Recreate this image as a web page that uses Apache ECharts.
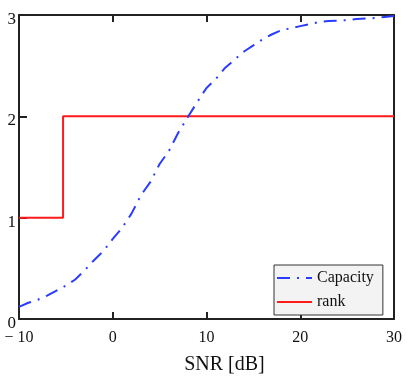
<!DOCTYPE html>
<html>
<head>
<meta charset="utf-8">
<script src="https://cdn.jsdelivr.net/npm/echarts@6/dist/echarts.min.js"></script>
<style>
html,body{margin:0;padding:0;background:#fff;}
#chart{width:415px;height:382px;}
</style>
</head>
<body>
<div id="chart"></div>
<script>
// SNR values (dB) and capacity
var snr = [-10,-9,-8,-7,-6,-5,-4,-3,-2,-1,0,1,2,3,4,5,6,7,8,9,10,11,12,13,14,15,16,17,18,19,20,21,22,23,24,25,26,27,28,29,30];
var capacity = [0.12,0.16,0.19,0.23,0.28,0.33,0.39,0.48,0.58,0.67,0.79,0.90,1.04,1.22,1.35,1.53,1.66,1.84,1.99,2.14,2.28,2.37,2.48,2.56,2.64,2.70,2.76,2.81,2.85,2.87,2.89,2.91,2.93,2.94,2.945,2.95,2.96,2.965,2.97,2.98,2.99];
var rankX = [-10, -5.3, -5.3, 30];
var rankY = [1, 1, 2, 2];
var xTickValues = [-10, 0, 10, 20, 30];
var xTickLabels = ['\u2212 10', '0', '10', '20', '30'];
var yTickLabels = ['0', '1', '2', '3'];
var seriesNames = ['Capacity', 'rank'];

var capData = snr.map(function (x, i) { return [x, capacity[i]]; });
var rankData = rankX.map(function (x, i) { return [x, rankY[i]]; });

var frame = { show: true, onZero: false, lineStyle: { color: '#222', width: 2 } };
var font = 'Liberation Serif, Times New Roman, serif';

var chart = echarts.init(document.getElementById('chart'), null, { renderer: 'canvas' });
chart.setOption({
  animation: false,
  backgroundColor: '#fff',
  grid: { left: 19, right: 21, top: 15, bottom: 63, containLabel: false },
  legend: {
    orient: 'vertical',
    left: 274, top: 265,
    data: seriesNames,
    backgroundColor: '#f3f3f3',
    borderColor: '#333', borderWidth: 1, borderRadius: 0,
    padding: [5, 9, 5, 2],
    itemWidth: 35, itemHeight: 14, itemGap: 8,
    itemStyle: { opacity: 0 },
    textStyle: { fontFamily: font, fontSize: 16, color: '#111' }
  },
  xAxis: [{
    type: 'value', position: 'bottom', min: -10, max: 30, interval: 10,
    name: 'SNR [dB]', nameLocation: 'middle', nameGap: 36,
    nameTextStyle: { fontFamily: font, fontSize: 20, color: '#111', padding: [0, 0, 0, 36] },
    axisLine: frame,
    axisTick: { show: true, inside: true, length: 7, lineStyle: { color: '#222', width: 2 } },
    splitLine: { show: false },
    axisLabel: {
      fontFamily: font, fontSize: 16, color: '#111', margin: 11,
      formatter: function (v) { var i = xTickValues.indexOf(v); return i >= 0 ? xTickLabels[i] : ''; }
    }
  }, {
    type: 'value', position: 'top', min: -10, max: 30, interval: 10,
    axisLine: frame,
    axisTick: { show: true, inside: true, length: 7, lineStyle: { color: '#222', width: 2 } },
    splitLine: { show: false },
    axisLabel: { show: false }
  }],
  yAxis: [{
    type: 'value', position: 'left', min: 0, max: 3, interval: 1,
    axisLine: frame,
    axisTick: { show: true, inside: true, length: 8, lineStyle: { color: '#222', width: 2 } },
    splitLine: { show: false },
    axisLabel: {
      fontFamily: font, fontSize: 17, color: '#111', margin: 3,
      verticalAlign: 'top', lineHeight: 9,
      formatter: function (v) { return yTickLabels[Math.round(v)]; }
    }
  }, {
    type: 'value', position: 'right', min: 0, max: 3, interval: 1,
    axisLine: frame,
    axisTick: { show: false },
    splitLine: { show: false },
    axisLabel: { show: false }
  }],
  series: [{
    name: seriesNames[0], type: 'line', data: capData, xAxisIndex: 0, yAxisIndex: 0,
    symbol: 'none', smooth: false, z: 3,
    lineStyle: { color: '#2a3cff', width: 2, type: [13, 7, 2, 7] },
    itemStyle: { color: '#2a3cff' }
  }, {
    name: seriesNames[1], type: 'line', data: rankData, xAxisIndex: 0, yAxisIndex: 0,
    symbol: 'none', z: 2,
    lineStyle: { color: '#ff1a1a', width: 2 },
    itemStyle: { color: '#ff1a1a' }
  }]
});
</script>
</body>
</html>
